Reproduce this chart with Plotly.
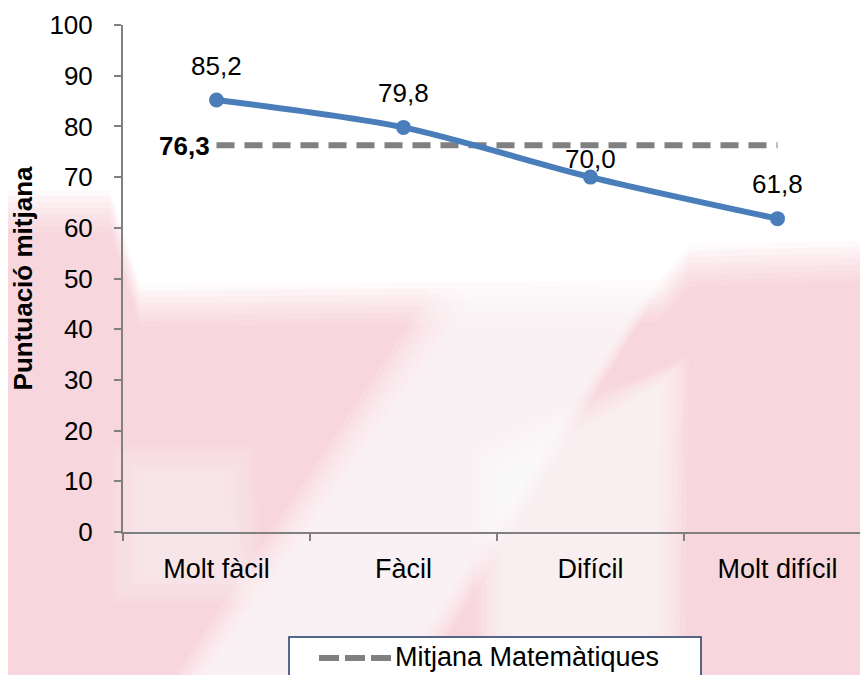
import plotly.graph_objects as go

categories = ["Molt fàcil", "Fàcil", "Difícil", "Molt difícil"]
scores = [85.2, 79.8, 70.0, 61.8]
mean_value = 76.3
mean_name = "Mitjana Matemàtiques"
y_ticks = [0, 10, 20, 30, 40, 50, 60, 70, 80, 90, 100]

FONT = "Liberation Sans, Arial, sans-serif"
BLUE = "#4a7ebb"
GREY = "#808080"
W, H = 868, 675
PAGE = 8  # default body margin of the html page
L, T, B, R = 115, 17, 151, 5  # margins in px


def fmt(v):
    return f"{v:.1f}".replace(".", ",")


def px(x, y):
    # screen pixel -> paper coords, used for the decoration and the legend box
    pw, ph = W - L - R, H - T - B
    return (x - PAGE - L) / pw, (H - B - (y - PAGE)) / ph


def poly(points, color, opacity):
    d = "M " + " L ".join(f"{px(x, y)[0]:.4f},{px(x, y)[1]:.4f}" for x, y in points) + " Z"
    return dict(type="path", xref="paper", yref="paper", path=d, fillcolor=color,
                opacity=opacity, line_width=0, layer="below")


fig = go.Figure()

fig.add_trace(go.Scatter(
    x=categories, y=[mean_value] * len(categories),
    mode="lines", name=mean_name,
    line=dict(color=GREY, width=6, dash="18px,10px"),
    hoverinfo="skip", showlegend=False,
))

fig.add_trace(go.Scatter(
    x=categories, y=scores,
    mode="lines+markers", name="Puntuació",
    line=dict(color=BLUE, width=6, shape="spline", smoothing=0.8),
    marker=dict(color=BLUE, size=15),
    showlegend=False,
))

label_shift = [34, 34, 18, 35]
for c, v, s in zip(categories, scores, label_shift):
    fig.add_annotation(x=c, y=v, text=fmt(v), showarrow=False, yshift=s,
                       font=dict(size=26, color="#000"))

fig.add_annotation(x=categories[0], y=mean_value, text=f"<b>{fmt(mean_value)}</b>",
                   showarrow=False, xanchor="right", xshift=-5, yshift=-1,
                   font=dict(size=26, color="#000"))

# faint pink watermark behind the chart
PINK = "rgb(238,170,184)"
WHITE = "rgb(255,255,255)"
shapes = []
for i in range(8):
    dy = i * 6
    shapes.append(poly([(0, 190 + dy), (110, 190 + dy), (140, 285 + dy), (660, 280 + dy),
                        (690, 245 + dy), (880, 240 + dy), (880, 690), (0, 690)], PINK, 0.065))
for i in range(7):
    g = 24 - i * 5
    shapes.append(poly([(190 - g, 690), (390 + g, 690), (650 + g, 290 - g),
                        (470 - g, 290 - g)], WHITE, 0.16))
    shapes.append(poly([(500 - g, 690), (660 + g, 690), (665 + g, 380 - g),
                        (500 - g, 470 - g)], WHITE, 0.14))
    shapes.append(poly([(135 - g, 470 - g), (230 + g, 470 - g), (240 + g, 580 + g),
                        (135 - g, 580 + g)], WHITE, 0.08))

# legend box drawn by hand so the long dashed sample matches
lx0, ly0 = px(289, 637)
lx1, ly1 = px(701, 700)
shapes.append(dict(type="rect", xref="paper", yref="paper", x0=lx0, x1=lx1, y0=ly1, y1=ly0,
                   fillcolor="white", line=dict(color="#1f3864", width=1.5)))
sx0, sy = px(319, 658)
sx1, _ = px(391, 658)
shapes.append(dict(type="line", xref="paper", yref="paper", x0=sx0, x1=sx1, y0=sy, y1=sy,
                   line=dict(color=GREY, width=6, dash="20px,6px")))
tx, ty = px(393, 657)
fig.add_annotation(xref="paper", yref="paper", x=tx, y=ty, text=mean_name, showarrow=False,
                   xanchor="left", yanchor="middle", font=dict(size=27, color="#000"))

fig.update_layout(
    width=W, height=H,
    paper_bgcolor="white", plot_bgcolor="rgba(0,0,0,0)",
    font=dict(family=FONT, size=26, color="#000"),
    margin=dict(l=L, r=R, t=T, b=B, autoexpand=False),
    shapes=shapes,
    showlegend=False,
    xaxis=dict(
        type="category", categoryorder="array", categoryarray=categories,
        showline=True, linecolor=GREY, linewidth=2, showgrid=False, automargin=False,
        ticks="outside", tickson="boundaries", ticklen=7, tickcolor=GREY, tickwidth=2,
        tickfont=dict(size=27), ticklabelstandoff=12, range=[-0.5, 3.5],
    ),
    yaxis=dict(
        range=[0, 100], tickvals=y_ticks, automargin=False,
        showline=True, linecolor=GREY, linewidth=2, showgrid=False, zeroline=False,
        ticks="outside", ticklen=7, tickcolor=GREY, tickwidth=2,
        tickfont=dict(size=26), ticklabelstandoff=16,
        title=dict(text="<b>Puntuació mitjana</b>", font=dict(size=26), standoff=12),
    ),
)

fig.write_html("out.html")
